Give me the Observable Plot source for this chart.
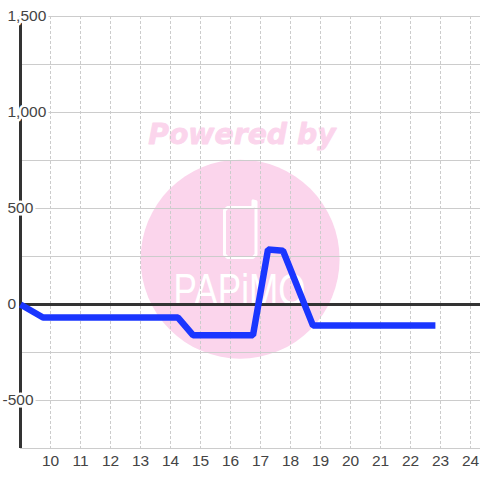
<!DOCTYPE html>
<html>
<head>
<meta charset="utf-8">
<style>html,body{margin:0;padding:0;background:#fff}svg{display:block}</style>
<script src="https://cdn.jsdelivr.net/npm/d3@7"></script>
<script src="https://cdn.jsdelivr.net/npm/@observablehq/plot@0.6"></script>
</head>
<body>
<div id="chart"></div>
<script>
const hours = [9, 9.75, 14.25, 14.75, 16.75, 17.25, 17.75, 18.75, 22.83];
const values = [0, -68, -68, -160, -160, 286, 280, -110, -110];
const xTicks = [10,11,12,13,14,15,16,17,18,19,20,21,22,23,24];
const yGrid = [1500,1250,1000,750,500,250,0,-250,-500,-750];
const yLabels = [1500,1000,500,0];
const yLabelsNeg = [-500];
const series = hours.map((x,i)=>({x,y:values[i]}));
const phoneX = [16.85,16.85,16.75,15.9,15.8,15.8,15.9,16.7,16.75,16.75,16.85];
const phoneY = [535,260,245,245,260,490,505,505,510,540,535];
const phone = phoneX.map((x,i)=>({x,y:phoneY[i]}));
const pink = "#fbd5ec";
const font = "'Liberation Sans', Arial, sans-serif";
const wmFont = "'DejaVu Sans', sans-serif";
const fmt = d3.format(",");
const xEnd = 9 + 460/30;

const chart = Plot.plot({
  width: 480, height: 480,
  marginLeft: 20, marginRight: 0, marginTop: 16, marginBottom: 32,
  style: {background: "#fff", fontFamily: font},
  x: {domain: [9, xEnd], axis: null},
  y: {domain: [-750, 1500], axis: null},
  marks: [
    Plot.dot([{x:16.32,y:236}], {x:"x", y:"y", r:99.5, fill:pink, stroke:"none"}),
    Plot.text(["Powered by"], {x:()=>16.38, y:()=>885, text:d=>d, fontSize:28.3, fontWeight:"bold", fontStyle:"italic", fontFamily:wmFont, fill:pink, stroke:pink, strokeWidth:0.8}),
    Plot.text(["PAPiMO"], {x:()=>16.3, y:()=>73, text:d=>d, fontSize:44, fontFamily:"'Liberation Sans', sans-serif", fill:"#fff", className:"logo"}),
    Plot.line(phone, {x:"x", y:"y", stroke:"#fff", strokeWidth:3, strokeLinejoin:"round", curve:"linear"}),
    Plot.ruleY(yGrid, {x1:9, x2:xEnd, stroke:"#ccc", strokeWidth:1, strokeOpacity:1}),
    Plot.ruleX(xTicks, {y1:1500, y2:-750, stroke:"#ccc", strokeWidth:1, strokeDasharray:"3,2", strokeOpacity:1}),
    Plot.ruleX([9], {y1:1500, y2:-750, stroke:"#333", strokeWidth:3}),
    Plot.ruleY([0], {x1:9, x2:xEnd, stroke:"#333", strokeWidth:3}),
    Plot.line(series, {x:"x", y:"y", stroke:"#1a36ff", strokeWidth:6.5, strokeLinejoin:"miter", strokeLinecap:"butt", curve:"linear"}),
    Plot.text(yLabels, {x:()=>9, y:d=>d, text:d=>fmt(d), dx:-13, textAnchor:"start", fontSize:15.5, fill:"#444", stroke:"#fff", strokeWidth:5, paintOrder:"stroke"}),
    Plot.text(yLabelsNeg, {x:()=>9, y:d=>d, text:d=>fmt(d).replace("−","-"), dx:-18, textAnchor:"start", fontSize:15.5, fill:"#444", stroke:"#fff", strokeWidth:5, paintOrder:"stroke"}),
    Plot.text(xTicks, {x:d=>d, y:()=>-750, text:d=>String(d), dy:13, fontSize:15.5, fill:"#444"})
  ]
});
chart.querySelectorAll(".logo text, text.logo").forEach(t => {
  t.setAttribute("textLength", "132");
  t.setAttribute("lengthAdjust", "spacingAndGlyphs");
});
document.getElementById("chart").appendChild(chart);
</script>
</body>
</html>
